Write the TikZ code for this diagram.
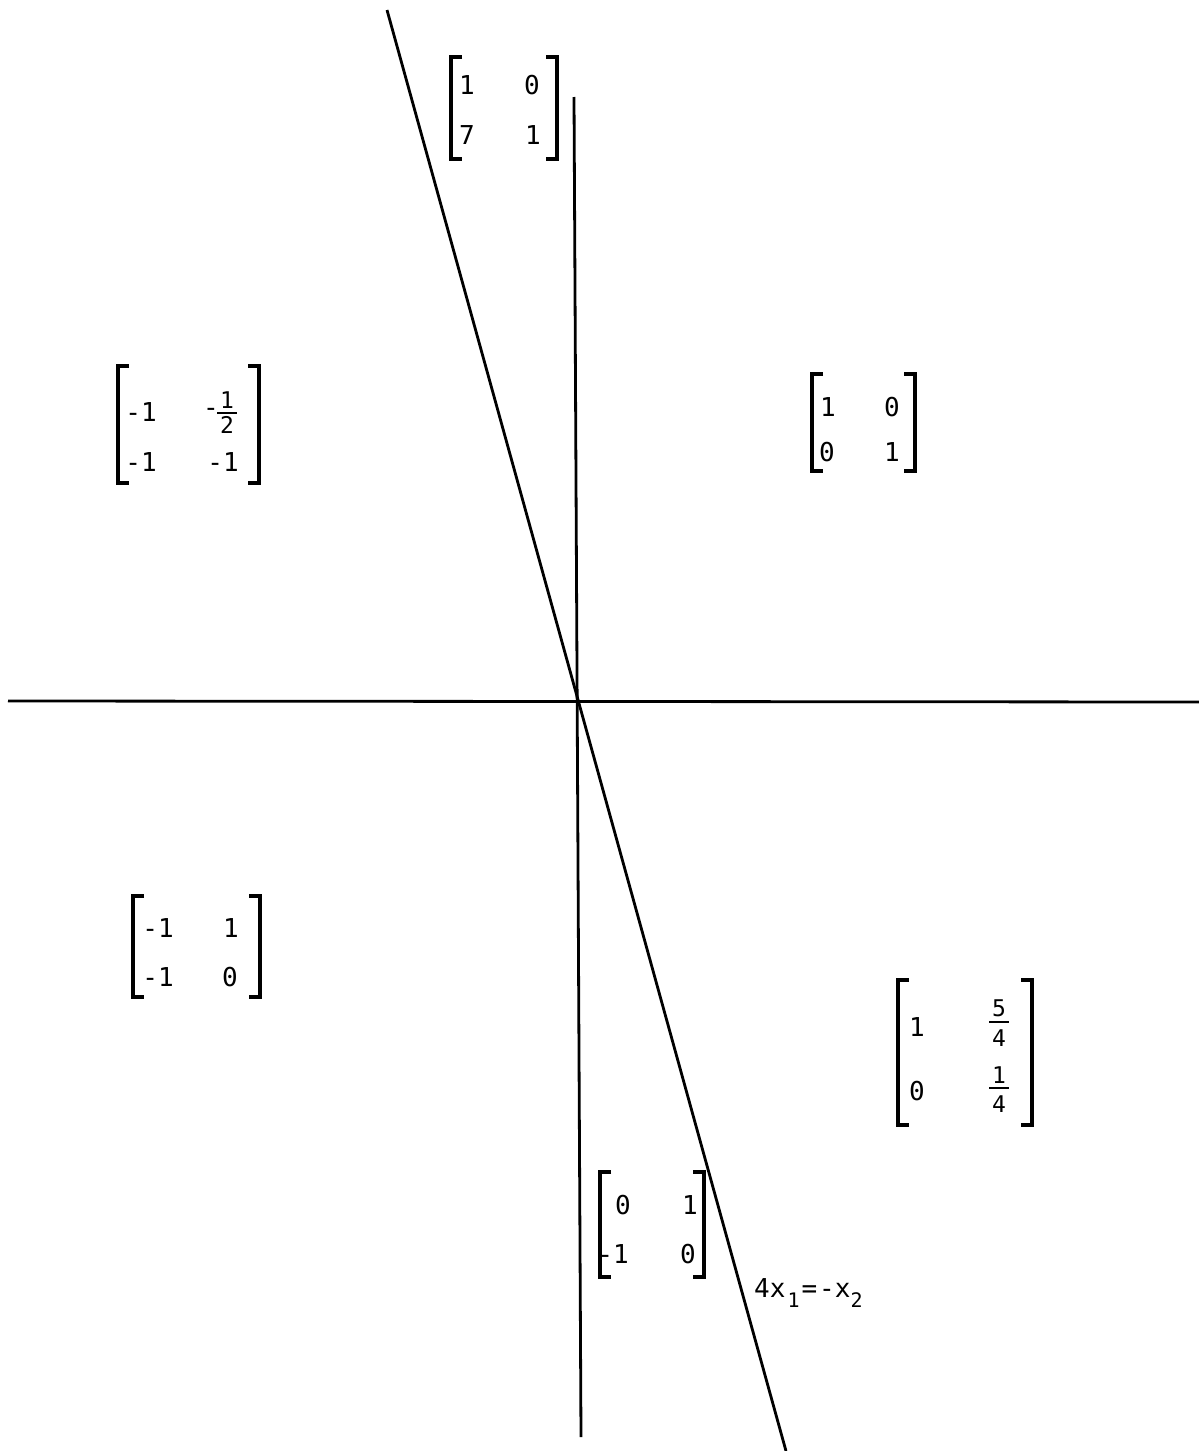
\documentclass[tikz,border=0pt]{standalone}
\usepackage{fontspec}
\setmonofont{DejaVu Sans Mono}
\newcommand\matbrk[5]{%
  \draw[brk] ({#1+#5},#3) -- (#1,#3) -- (#1,#4) -- ({#1+#5},#4);
  \draw[brk] ({#2-#5},#3) -- (#2,#3) -- (#2,#4) -- ({#2-#5},#4);}
\begin{document}
\begin{tikzpicture}[x=1pt,y=-1pt,
  axis/.style={line width=2.8pt},
  brk/.style={line width=3.2pt},
  ent/.style={font=\ttfamily\fontsize{26}{26}\selectfont, inner sep=0pt, anchor=center},
  frc/.style={font=\ttfamily\fontsize{23}{23}\selectfont, inner sep=0pt, anchor=center},
  fbar/.style={line width=1.8pt},
  lbl/.style={font=\ttfamily\fontsize{26}{26}\selectfont, inner sep=0pt, anchor=base west}]
\useasboundingbox (0,0) rectangle (1199,1451);
\fill[white] (0,0) rectangle (1199,1451);
% axes and line
\coordinate (hl) at (8,701);
\coordinate (hr) at (1199,702);
\coordinate (vt) at (574,97);
\coordinate (vb) at (581,1437);
\coordinate (st) at (387,10);
\coordinate (sb) at (786,1451);
\draw[axis] (hl) -- (hr);
\draw[axis] (vt) -- (vb);
\draw[axis] (st) -- (sb);
% M1
\matbrk{451}{557}{57}{159}{11}
\node[ent] (a11) at (467,85) {1};
\node[ent] (a12) at (532,85) {0};
\node[ent] (a21) at (467,135) {7};
\node[ent] (a22) at (533,135) {1};
% M2
\matbrk{118}{259}{366}{483}{11}
\node[ent] (b11) at (141,412) {-1};
\node[ent] (b12m) at (211,412) {-};
\node[frc] (b12n) at (227,400) {1};
\node[frc] (b12d) at (227,425) {2};
\draw[fbar] (217,413) -- (237,413);
\node[ent] (b21) at (141,462) {-1};
\node[ent] (b22) at (223,462) {-1};
% M3
\matbrk{812}{915}{374}{471}{11}
\node[ent] (c11) at (828,407) {1};
\node[ent] (c12) at (892,407) {0};
\node[ent] (c21) at (827,452) {0};
\node[ent] (c22) at (892,452) {1};
% M4
\matbrk{133}{260}{896}{997}{11}
\node[ent] (d11) at (158,928) {-1};
\node[ent] (d12) at (231,928) {1};
\node[ent] (d21) at (158,977) {-1};
\node[ent] (d22) at (230,977) {0};
% M5
\matbrk{898}{1032}{980}{1125}{11}
\node[ent] (e11) at (917,1027) {1};
\node[frc] (e12n) at (999,1008) {5};
\draw[fbar] (989,1022) -- (1009,1022);
\node[frc] (e12d) at (999,1038) {4};
\node[ent] (e21) at (917,1091) {0};
\node[frc] (e22n) at (999,1075) {1};
\draw[fbar] (989,1088) -- (1009,1088);
\node[frc] (e22d) at (999,1104) {4};
% M6
\matbrk{600}{704}{1172}{1277}{11}
\node[ent] (f11) at (623,1205) {0};
\node[ent] (f12) at (690,1205) {1};
\node[ent] (f21) at (613,1254) {-1};
\node[ent] (f22) at (688,1254) {0};
% label
\node[lbl] (eq) at (754,1297) {4x\hspace{2pt}\raisebox{-10pt}{\fontsize{20}{20}\selectfont 1}\hspace{2pt}=\hspace{2pt}-x\raisebox{-10pt}{\fontsize{20}{20}\selectfont 2}};
\end{tikzpicture}
\end{document}
